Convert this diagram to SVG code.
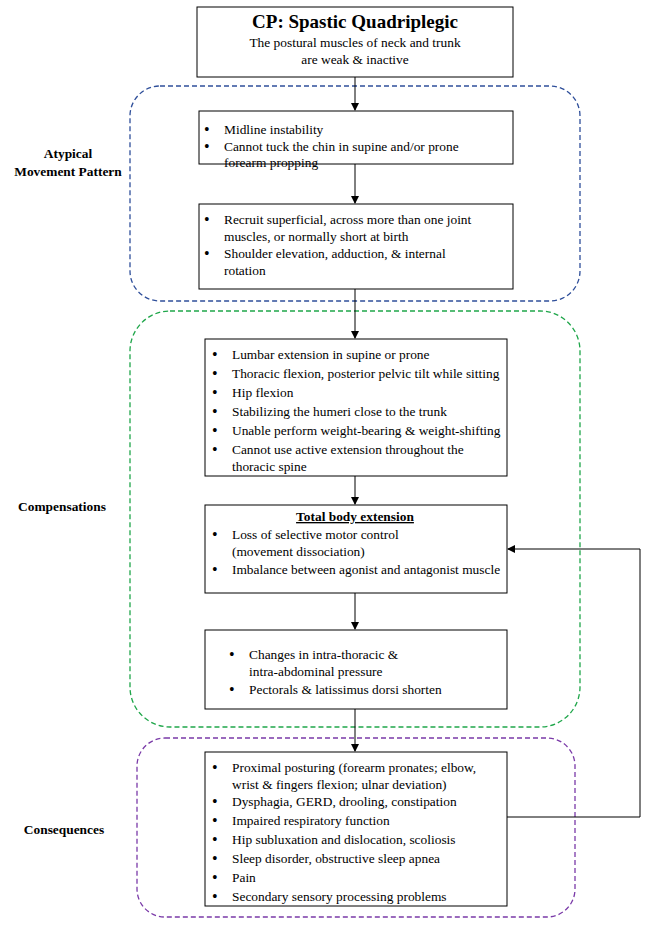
<svg xmlns="http://www.w3.org/2000/svg" width="649" height="926" viewBox="0 0 649 926">
<defs>
<marker id="ah" markerWidth="8" markerHeight="8" refX="7" refY="4" orient="auto" markerUnits="userSpaceOnUse"><path d="M0,0 L8,4 L0,8 z" fill="#000"/></marker>
<style>
text{font-family:"Liberation Serif","Times New Roman",serif;font-size:13.4px;fill:#000}
.b{font-weight:bold}
.u{font-size:16px}
.box{fill:#fff;stroke:#000;stroke-width:1}
.c{fill:none;stroke:#000;stroke-width:1}
.grp{fill:none;stroke-width:1.3;stroke-dasharray:5,3}
</style>
</defs>
<rect width="649" height="926" fill="#fff"/>
<g id="groups">
<rect x="130" y="86" width="450" height="215" rx="30" class="grp" stroke="#2f4f9a"/>
<rect x="130" y="311" width="450" height="416" rx="40" class="grp" stroke="#1fa64a"/>
<rect x="137" y="738" width="438" height="179" rx="28" class="grp" stroke="#7a3aa8"/>
</g>
<g id="labels">
<text x="68" y="158" text-anchor="middle" class="b">Atypical</text>
<text x="68" y="176" text-anchor="middle" class="b">Movement Pattern</text>
<text x="62" y="511" text-anchor="middle" class="b">Compensations</text>
<text x="64" y="834" text-anchor="middle" class="b">Consequences</text>
</g>
<g id="connectors">
<line x1="355" y1="77" x2="355" y2="110" class="c" marker-end="url(#ah)"/>
<line x1="355" y1="164" x2="355" y2="203" class="c" marker-end="url(#ah)"/>
<line x1="355" y1="289" x2="355" y2="338" class="c" marker-end="url(#ah)"/>
<line x1="355" y1="476" x2="355" y2="504" class="c" marker-end="url(#ah)"/>
<line x1="355" y1="593" x2="355" y2="629" class="c" marker-end="url(#ah)"/>
<line x1="355" y1="709" x2="355" y2="751" class="c" marker-end="url(#ah)"/>
<polyline points="507,817 640,817 640,549 508,549" class="c" marker-end="url(#ah)"/>
</g>
<g id="n0">
<rect x="197" y="7" width="316" height="70" class="box"/>
<text x="355" y="28" text-anchor="middle" class="b" style="font-size:19px">CP: Spastic Quadriplegic</text>
<text x="355" y="47" text-anchor="middle">The postural muscles of neck and trunk</text>
<text x="355" y="64" text-anchor="middle">are weak &amp; inactive</text>
</g>
<g id="n1">
<rect x="199" y="111" width="314" height="53" class="box"/>
<text x="204" y="135" class="u">•</text><text x="224" y="134">Midline instability</text>
<text x="204" y="152" class="u">•</text><text x="224" y="151">Cannot tuck the chin in supine and/or prone</text>
<text x="224" y="167">forearm propping</text>
</g>
<g id="n2">
<rect x="199" y="204" width="314" height="85" class="box"/>
<text x="204" y="225" class="u">•</text><text x="224" y="224">Recruit superficial, across more than one joint</text>
<text x="224" y="241">muscles, or normally short at birth</text>
<text x="204" y="259" class="u">•</text><text x="224" y="258">Shoulder elevation, adduction, &amp; internal</text>
<text x="224" y="275">rotation</text>
</g>
<g id="n3">
<rect x="205" y="339" width="302" height="137" class="box"/>
<text x="212" y="360" class="u">•</text><text x="232" y="359">Lumbar extension in supine or prone</text>
<text x="212" y="379" class="u">•</text><text x="232" y="378">Thoracic flexion, posterior pelvic tilt while sitting</text>
<text x="212" y="398" class="u">•</text><text x="232" y="397">Hip flexion</text>
<text x="212" y="417" class="u">•</text><text x="232" y="416">Stabilizing the humeri close to the trunk</text>
<text x="212" y="436" class="u">•</text><text x="232" y="435">Unable perform weight-bearing &amp; weight-shifting</text>
<text x="212" y="455" class="u">•</text><text x="232" y="454">Cannot use active extension throughout the</text>
<text x="232" y="471">thoracic spine</text>
</g>
<g id="n4">
<rect x="205" y="505" width="302" height="88" class="box"/>
<text x="355" y="521" text-anchor="middle" class="b" text-decoration="underline">Total body extension</text>
<text x="212" y="540" class="u">•</text><text x="232" y="539">Loss of selective motor control</text>
<text x="232" y="556">(movement dissociation)</text>
<text x="212" y="575" class="u">•</text><text x="232" y="574">Imbalance between agonist and antagonist muscle</text>
</g>
<g id="n5">
<rect x="205" y="630" width="302" height="79" class="box"/>
<text x="229" y="660" class="u">•</text><text x="249" y="659">Changes in intra-thoracic &amp;</text>
<text x="249" y="676">intra-abdominal pressure</text>
<text x="229" y="695" class="u">•</text><text x="249" y="694">Pectorals &amp; latissimus dorsi shorten</text>
</g>
<g id="n6">
<rect x="205" y="752" width="302" height="154" class="box"/>
<text x="212" y="773" class="u">•</text><text x="232" y="772">Proximal posturing (forearm pronates; elbow,</text>
<text x="232" y="789">wrist &amp; fingers flexion; ulnar deviation)</text>
<text x="212" y="807" class="u">•</text><text x="232" y="806">Dysphagia, GERD, drooling, constipation</text>
<text x="212" y="826" class="u">•</text><text x="232" y="825">Impaired respiratory function</text>
<text x="212" y="845" class="u">•</text><text x="232" y="844">Hip subluxation and dislocation, scoliosis</text>
<text x="212" y="864" class="u">•</text><text x="232" y="863">Sleep disorder, obstructive sleep apnea</text>
<text x="212" y="883" class="u">•</text><text x="232" y="882">Pain</text>
<text x="212" y="902" class="u">•</text><text x="232" y="901">Secondary sensory processing problems</text>
</g>
</svg>
